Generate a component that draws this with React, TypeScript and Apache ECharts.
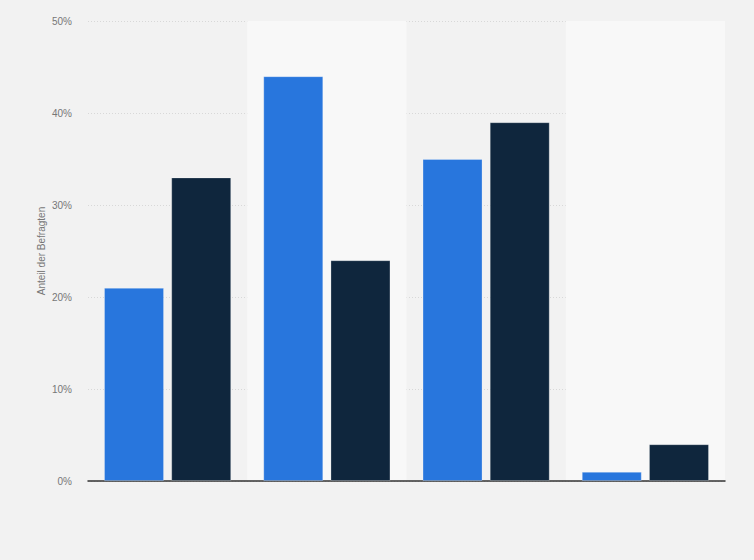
import { useEffect, useRef } from 'react'
import * as echarts from 'echarts'

const categories = ['Gruppe 1', 'Gruppe 2', 'Gruppe 3', 'Gruppe 4']
const seriesNames = ['Serie 1', 'Serie 2']
const blueValues = [21, 44, 35, 1]
const darkValues = [33, 24, 39, 4]
const yTicks = [0, 10, 20, 30, 40, 50]

export default function App() {
  const chartRef = useRef<HTMLDivElement>(null)

  useEffect(() => {
    if (!chartRef.current) return
    document.body.style.margin = '0'
    const chart = echarts.init(chartRef.current, undefined, { renderer: 'svg' })

    chart.setOption({
      animation: false,
      backgroundColor: '#f2f2f2',
      textStyle: { fontFamily: 'Liberation Sans, Arial, sans-serif' },
      grid: { left: 88, right: 29, top: 21, bottom: 79, containLabel: false },
      xAxis: {
        type: 'category',
        data: categories,
        axisLine: { show: true, lineStyle: { color: '#333', width: 1.5 } },
        axisTick: { show: false },
        axisLabel: { show: false },
        splitArea: {
          show: true,
          areaStyle: { color: ['rgba(0,0,0,0)', '#f8f8f8'] },
        },
      },
      yAxis: {
        type: 'value',
        min: yTicks[0],
        max: yTicks[yTicks.length - 1],
        interval: 10,
        name: 'Anteil der Befragten',
        nameLocation: 'middle',
        nameGap: 42,
        nameMoveOverlap: false,
        nameTextStyle: { color: '#777', fontSize: 10 },
        axisLine: { show: false },
        axisTick: { show: false },
        axisLabel: {
          color: '#777',
          fontSize: 10,
          margin: 16,
          formatter: (v: number) => `${v}%`,
        },
        splitLine: {
          show: true,
          lineStyle: { color: '#d8d8d8', type: [1, 2], width: 1 },
        },
      },
      series: [
        {
          name: seriesNames[0],
          type: 'bar',
          data: blueValues,
          barWidth: 60,
          barGap: '12%',
          itemStyle: {
            color: '#2876dd',
            borderColor: 'rgba(255,255,255,0.25)',
            borderWidth: 1,
          },
        },
        {
          name: seriesNames[1],
          type: 'bar',
          data: darkValues,
          barWidth: 60,
          barGap: '12%',
          itemStyle: {
            color: '#0f263d',
            borderColor: 'rgba(255,255,255,0.25)',
            borderWidth: 1,
          },
        },
      ],
    })

    return () => {
      chart.dispose()
    }
  }, [])

  return (
    <div
      ref={chartRef}
      style={{ position: 'absolute', left: 0, top: 0, width: '754px', height: '560px' }}
    />
  )
}
